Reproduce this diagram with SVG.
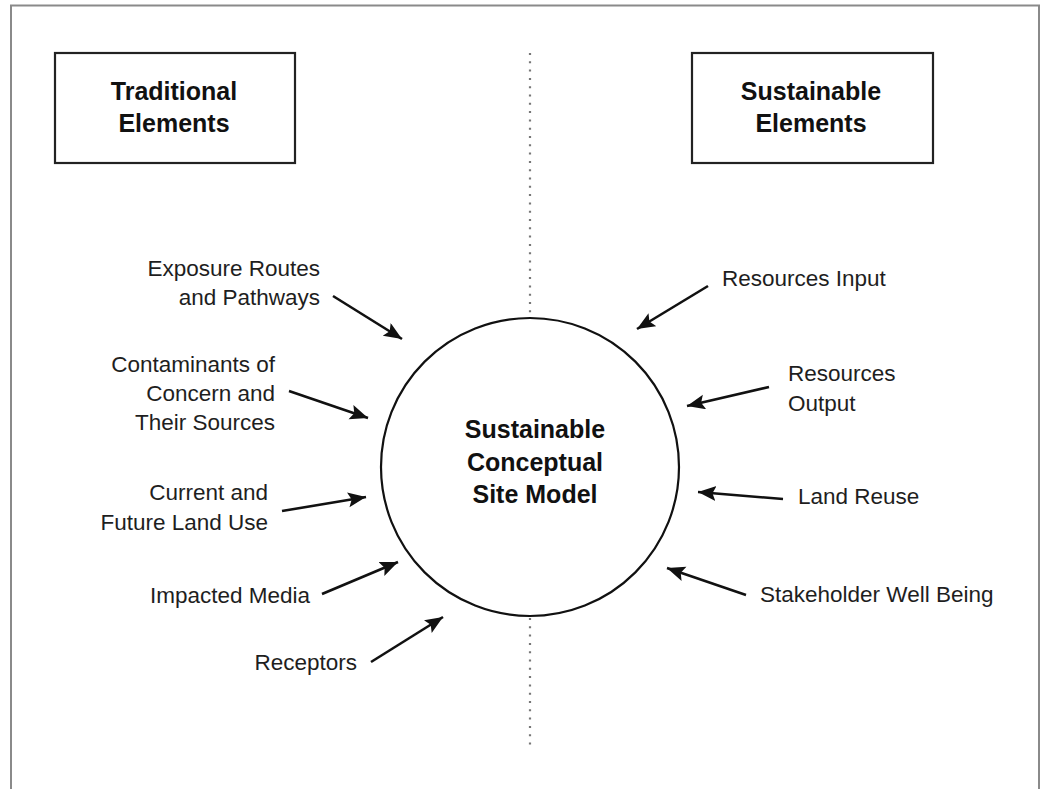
<svg xmlns="http://www.w3.org/2000/svg" width="1042" height="789" viewBox="0 0 1042 789">
<defs>
<marker id="ah" markerUnits="userSpaceOnUse" markerWidth="20" markerHeight="16" refX="18" refY="7.5" orient="auto">
<path d="M0,0 L18,7.5 L0,15 L3.5,7.5 z" fill="#111"/>
</marker>
<style>
.lbl{font-family:"Liberation Sans",Arial,sans-serif;font-size:22.5px;fill:#1e1e1e}
.hdr{font-family:"Liberation Sans",Arial,sans-serif;font-size:25px;font-weight:bold;fill:#111}
.box{fill:#fff;stroke:#222;stroke-width:2.2}
.arr{stroke:#111;stroke-width:2.6;fill:none;marker-end:url(#ah)}
.dot{stroke:#777;stroke-width:2.2;stroke-dasharray:2 6.3}
</style>
</defs>
<rect width="1042" height="789" fill="#fff"/>
<g id="frame" fill="none" stroke="#8a8a8a" stroke-width="2">
<path d="M11,800 L11,5.5 L1039,5.5 L1039,800"/>
</g>
<g id="divider">
<line class="dot" x1="530" y1="53" x2="530" y2="318"/>
<line class="dot" x1="530" y1="618" x2="530" y2="748"/>
</g>
<g id="traditional">
<rect class="box" x="55" y="53" width="240" height="110"/>
<text class="hdr" text-anchor="middle" x="174" y="100">Traditional</text>
<text class="hdr" text-anchor="middle" x="174" y="132">Elements</text>
</g>
<g id="sustainable">
<rect class="box" x="692" y="53" width="241" height="110"/>
<text class="hdr" text-anchor="middle" x="811" y="100">Sustainable</text>
<text class="hdr" text-anchor="middle" x="811" y="132">Elements</text>
</g>
<g id="csm">
<circle cx="530" cy="467" r="149" fill="none" stroke="#111" stroke-width="2.2"/>
<text class="hdr" text-anchor="middle" x="535" y="438">Sustainable</text>
<text class="hdr" text-anchor="middle" x="535" y="471">Conceptual</text>
<text class="hdr" text-anchor="middle" x="535" y="503">Site Model</text>
</g>
<g id="exposure">
<text class="lbl" text-anchor="end" x="320" y="276">Exposure Routes</text>
<text class="lbl" text-anchor="end" x="320" y="305">and Pathways</text>
</g>
<g id="contaminants">
<text class="lbl" text-anchor="end" x="275" y="372">Contaminants of</text>
<text class="lbl" text-anchor="end" x="275" y="401">Concern and</text>
<text class="lbl" text-anchor="end" x="275" y="430">Their Sources</text>
</g>
<g id="landuse">
<text class="lbl" text-anchor="end" x="268" y="500">Current and</text>
<text class="lbl" text-anchor="end" x="268" y="530">Future Land Use</text>
</g>
<g id="media">
<text class="lbl" text-anchor="end" x="310" y="603">Impacted Media</text>
</g>
<g id="receptors">
<text class="lbl" text-anchor="end" x="357" y="670">Receptors</text>
</g>
<g id="resin">
<text class="lbl" x="722" y="286">Resources Input</text>
</g>
<g id="resout">
<text class="lbl" x="788" y="381">Resources</text>
<text class="lbl" x="788" y="411">Output</text>
</g>
<g id="reuse">
<text class="lbl" x="798" y="504">Land Reuse</text>
</g>
<g id="stakeholder">
<text class="lbl" x="760" y="602">Stakeholder Well Being</text>
</g>
<g id="connectors">
<line class="arr" x1="333" y1="296" x2="402" y2="339"/>
<line class="arr" x1="289" y1="391" x2="368" y2="418"/>
<line class="arr" x1="282" y1="511" x2="366" y2="497"/>
<line class="arr" x1="322" y1="594" x2="398" y2="562"/>
<line class="arr" x1="371" y1="662" x2="443" y2="617"/>
<line class="arr" x1="708" y1="286" x2="637" y2="329"/>
<line class="arr" x1="769" y1="387" x2="687" y2="406"/>
<line class="arr" x1="783" y1="499" x2="698" y2="492"/>
<line class="arr" x1="746" y1="595" x2="667" y2="568"/>
</g>
</svg>
